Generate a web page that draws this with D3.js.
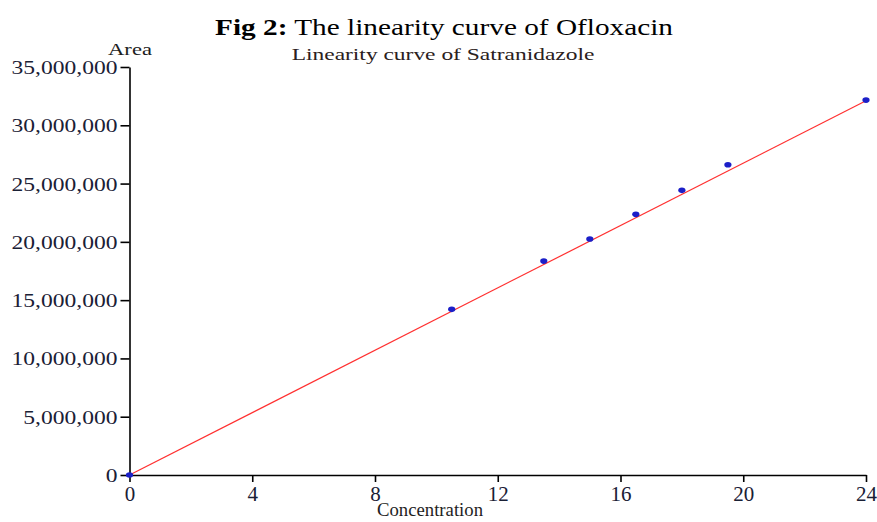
<!DOCTYPE html>
<html>
<head>
<meta charset="utf-8">
<script src="https://cdn.jsdelivr.net/npm/d3@7"></script>
<style>
body { margin: 0; background: #fff; }
svg text { font-family: "Liberation Serif", "Times New Roman", serif; }
</style>
</head>
<body>
<svg id="chart" width="877" height="522"></svg>
<script>
let width = 877, height = 522;

// data
let concentration = [0, 10.5, 13.5, 15, 16.5, 18, 19.5, 24];
let area = [0, 14210000, 18350000, 20240000, 22360000, 24420000, 26610000, 32160000];
let fitX = [0, 24];
let fitY = [0, 32100000];
let xTicks = [0, 4, 8, 12, 16, 20, 24];
let yTicks = [0, 5000000, 10000000, 15000000, 20000000, 25000000, 30000000, 35000000];

let svg = d3.select("#chart");

let x = d3.scaleLinear()
	.domain([0, 24])
	.range([129.5, 866]);

let y = d3.scaleLinear()
	.domain([0, 35000000])
	.range([475, 67]);

// the original picture is stretched sideways, so texts get a horizontal scale
let yStretch = 1.24, xStretch = 1.05;

// axes
let xAxis = svg.append("g")
	.attr("transform", "translate(0," + y(0) + ")")
	.call(d3.axisBottom(x).tickValues(xTicks).tickSize(7).tickSizeOuter(0).tickFormat(d3.format("d")));

let yAxis = svg.append("g")
	.attr("transform", "translate(" + x(0) + ",0)")
	.call(d3.axisLeft(y).tickValues(yTicks).tickSize(9).tickSizeOuter(0).tickFormat(d3.format(",")));

[xAxis, yAxis].forEach(function(a) {
	a.select(".domain").attr("stroke", "#000").attr("stroke-width", 1.6);
	a.selectAll(".tick line").attr("stroke", "#000").attr("stroke-width", 1.6);
	a.selectAll("text")
		.attr("fill", "#1a2035")
		.style("font-family", "Liberation Serif, serif");
});
xAxis.selectAll("text")
	.style("font-size", "20px")
	.attr("y", 9)
	.attr("dy", "0.85em")
	.attr("transform", "scale(" + xStretch + ",1)");
yAxis.selectAll("text")
	.style("font-size", "19px")
	.attr("x", -12 / yStretch)
	.attr("dy", "0.34em")
	.attr("transform", "scale(" + yStretch + ",1)");

// fitted line
let line = d3.line()
	.x(function(d) { return x(d[0]); })
	.y(function(d) { return y(d[1]); });

svg.append("path")
	.datum(d3.zip(fitX, fitY))
	.attr("d", line)
	.attr("fill", "none")
	.attr("stroke", "#ff3030")
	.attr("stroke-width", 1.2);

// points
svg.selectAll("ellipse.pt")
	.data(d3.zip(concentration, area))
	.enter().append("ellipse")
	.attr("class", "pt")
	.attr("cx", function(d) { return x(d[0]); })
	.attr("cy", function(d) { return y(d[1]); })
	.attr("rx", 3.6)
	.attr("ry", 2.8)
	.attr("fill", "#1b1fc8");

// titles
let title = svg.append("text")
	.attr("transform", "translate(444,35) scale(1.22,1)")
	.style("text-anchor", "middle")
	.style("font-size", "24px")
	.attr("fill", "#000");
title.append("tspan").style("font-weight", "bold").text("Fig 2:");
title.append("tspan").text(" The linearity curve of Ofloxacin");

svg.append("text")
	.attr("transform", "translate(443,60) scale(1.38,1)")
	.style("text-anchor", "middle")
	.style("font-size", "17px")
	.attr("fill", "#2a2020")
	.text("Linearity curve of Satranidazole");

// axis labels
svg.append("text")
	.attr("transform", "translate(130,55) scale(1.33,1)")
	.style("text-anchor", "middle")
	.style("font-size", "17px")
	.attr("fill", "#1e1e1e")
	.text("Area");

svg.append("text")
	.attr("transform", "translate(430,516) scale(1.04,1)")
	.style("text-anchor", "middle")
	.style("font-size", "18px")
	.attr("fill", "#1e1e1e")
	.text("Concentration");
</script>
</body>
</html>
